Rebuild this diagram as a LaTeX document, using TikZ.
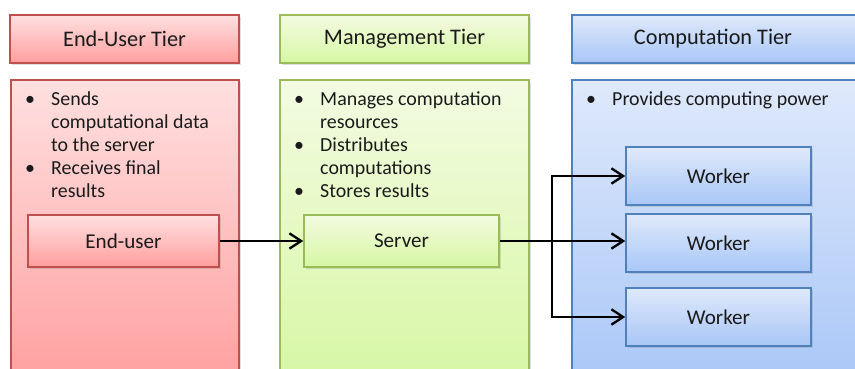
\documentclass[tikz,border=0pt]{standalone}
\usepackage{fontspec}
\setmainfont{Carlito}
\usetikzlibrary{arrows.meta, positioning, calc, shadows}
\definecolor{credline}{HTML}{C0504D}
\definecolor{credtop}{HTML}{FFE0E0}
\definecolor{credbot}{HTML}{FF9E9E}
\definecolor{cgreenline}{HTML}{9BBB59}
\definecolor{cgreentop}{HTML}{F3FBE2}
\definecolor{cgreenbot}{HTML}{D6F7A2}
\definecolor{cblueline}{HTML}{4F81BD}
\definecolor{cbluetop}{HTML}{DFE9FB}
\definecolor{cbluebot}{HTML}{A8C6F7}
\definecolor{ctext}{HTML}{1A1A1A}
\def\unitpx{0.03cm}
\tikzset{
  every picture/.style={x=0.03cm, y=-0.03cm, text=ctext},
  tier/.style={draw=#1line, top color=#1top, bottom color=#1bot, line width=1.5pt,
    inner sep=0pt, drop shadow={shadow xshift=1.5pt, shadow yshift=-2pt, opacity=0.25}},
  header/.style={font=\fontsize{19pt}{22pt}\selectfont},
  unit/.style={font=\fontsize{18pt}{21pt}\selectfont},
  point/.style={font=\fontsize{17pt}{19.55pt}\selectfont, inner sep=0pt},
  arrow/.style={-{Straight Barb[length=3.5mm, width=4.6mm, line width=2pt]}, line width=2pt, draw=black},
}
% box given by its corners in pixels
\newcommand{\tierbox}[7]{
  \node[tier=#6, minimum width=(#4-#2)*\unitpx, minimum height=(#5-#3)*\unitpx, #7] (#1) at ({(#2+#4)/2},{(#3+#5)/2}) {};
}
% bullet point, baseline of its first line at y
\newcommand{\tierpoint}[4]{
  \node[point, anchor=base] (#1-b) at (#2-21,#3) {•};
  \node[point, anchor=base west] (#1) at (#2,#3) {\parbox[t]{9cm}{\raggedright #4}};
}

\begin{document}
\begin{tikzpicture}
  \useasboundingbox (0,0) rectangle (855,369);
  \clip (0,0) rectangle (855,369);
  % tier titles
  \tierbox{hdruser}{10}{15}{239}{63}{cred}{}
  \tierbox{hdrmgmt}{280}{15}{529}{63}{cgreen}{}
  \tierbox{hdrcomp}{572}{15}{880}{63}{cblue}{}
  \node[header] (tuser) at (hdruser) {End-User Tier};
  \node[header] (tmgmt) at (hdrmgmt) {Management Tier};
  \node[header] (tcomp) at (713,39) {Computation Tier};
  % tier bodies
  \tierbox{bodyuser}{11}{80}{239}{390}{cred}{}
  \tierbox{bodymgmt}{280}{80}{529}{390}{cgreen}{}
  \tierbox{bodycomp}{572}{80}{880}{390}{cblue}{}
  % what each tier does
  \tierpoint{puser1}{51}{106}{Sends\\computational data\\to the server}
  \tierpoint{puser2}{51}{175}{Receives final\\results}
  \tierpoint{pmgmt1}{320}{106}{Manages computation\\resources}
  \tierpoint{pmgmt2}{320}{152}{Distributes\\computations}
  \tierpoint{pmgmt3}{320}{198}{Stores results}
  \tierpoint{pcomp1}{612}{106}{Provides computing power}
  % units
  \tierbox{enduser}{28}{215}{219}{267}{cred}{line width=1.3pt}
  \tierbox{server}{304}{215}{499}{267}{cgreen}{line width=1.3pt}
  \tierbox{worker1}{626}{147}{811}{205}{cblue}{line width=1.3pt}
  \tierbox{worker2}{626}{214}{811}{272}{cblue}{line width=1.3pt}
  \tierbox{worker3}{626}{288}{811}{346}{cblue}{line width=1.3pt}
  \node[unit] (lenduser) at (enduser) {End-user};
  \node[unit] (lserver) at (server) {Server};
  \foreach \w in {worker1, worker2, worker3}
    \node[unit] (l\w) at (\w) {Worker};
  % connectors
  \coordinate (branch) at ($(server.east)+(52,0)$);
  \draw[arrow] (enduser.east) -- (server.west);
  \draw[arrow] (server.east) -- (server.east -| worker2.west);
  \draw[arrow] (branch) |- (worker1.west);
  \draw[arrow] (branch) |- (worker3.west);
\end{tikzpicture}
\end{document}
